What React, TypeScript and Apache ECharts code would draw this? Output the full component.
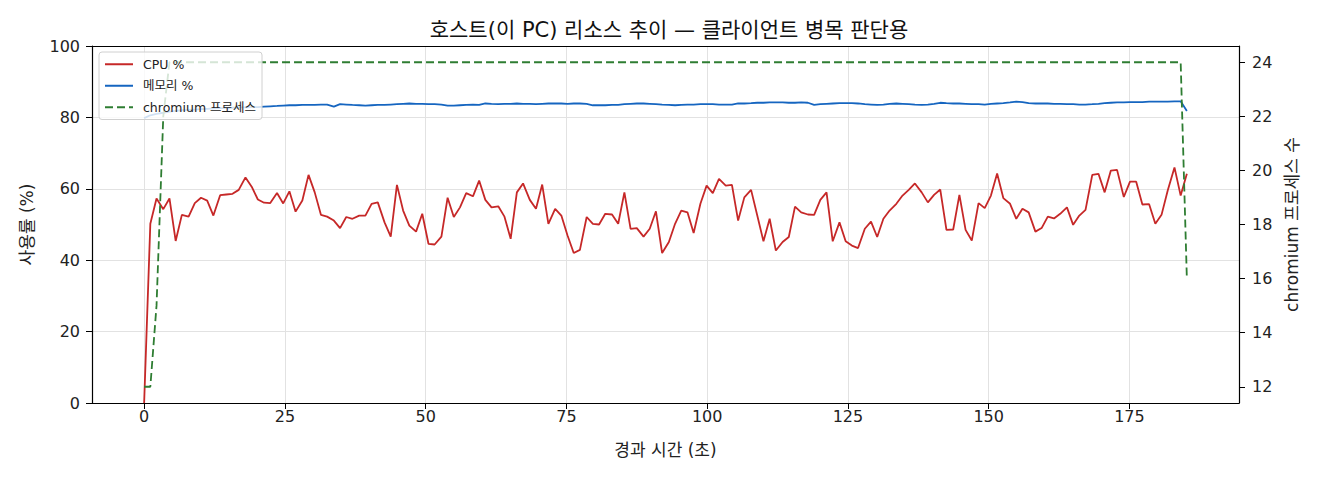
import React, { useEffect, useRef } from "react";
import * as echarts from "echarts";

// elapsed time of each sample (s)
const times = [
  0, 1.1, 2.2, 3.4, 4.5, 5.6, 6.7, 7.9, 9.0, 10.1,
  11.2, 12.3, 13.5, 14.6, 15.7, 16.8, 18.0, 19.1, 20.2, 21.3,
  22.4, 23.6, 24.7, 25.8, 26.9, 28.1, 29.2, 30.3, 31.4, 32.5,
  33.7, 34.8, 35.9, 37.0, 38.2, 39.3, 40.4, 41.5, 42.7, 43.8,
  44.9, 46.0, 47.1, 48.3, 49.4, 50.5, 51.6, 52.8, 53.9, 55.0,
  56.1, 57.2, 58.4, 59.5, 60.6, 61.7, 62.9, 64.0, 65.1, 66.2,
  67.3, 68.5, 69.6, 70.7, 71.8, 73.0, 74.1, 75.2, 76.3, 77.4,
  78.6, 79.7, 80.8, 81.9, 83.1, 84.2, 85.3, 86.4, 87.5, 88.7,
  89.8, 90.9, 92.0, 93.2, 94.3, 95.4, 96.5, 97.6, 98.8, 99.9,
  101.0, 102.1, 103.3, 104.4, 105.5, 106.6, 107.8, 108.9, 110.0, 111.1,
  112.2, 113.4, 114.5, 115.6, 116.7, 117.9, 119.0, 120.1, 121.2, 122.3,
  123.5, 124.6, 125.7, 126.8, 128.0, 129.1, 130.2, 131.3, 132.4, 133.6,
  134.7, 135.8, 136.9, 138.1, 139.2, 140.3, 141.4, 142.5, 143.7, 144.8,
  145.9, 147.0, 148.2, 149.3, 150.4, 151.5, 152.6, 153.8, 154.9, 156.0,
  157.1, 158.3, 159.4, 160.5, 161.6, 162.7, 163.9, 165.0, 166.1, 167.2,
  168.4, 169.5, 170.6, 171.7, 172.8, 174.0, 175.1, 176.2, 177.3, 178.5,
  179.6, 180.7, 181.8, 183.0, 184.1, 185.2,
];

const cpu = [
  0, 50.2, 57.3, 54.3, 57.3, 45.4, 52.7, 52.2, 56.0, 57.5,
  56.7, 52.5, 58.2, 58.4, 58.6, 59.7, 63.2, 60.6, 57.0, 56.1,
  56.0, 58.8, 55.9, 59.3, 53.6, 56.7, 63.9, 59.0, 52.7, 52.2,
  51.1, 49.0, 52.1, 51.6, 52.5, 52.5, 55.8, 56.2, 50.6, 46.6,
  61.1, 53.9, 49.7, 48.0, 53.0, 44.6, 44.4, 46.6, 57.5, 52.1,
  54.8, 58.8, 57.9, 62.3, 56.9, 54.8, 55.1, 52.2, 46.0, 59.0,
  61.5, 56.9, 54.4, 61.2, 50.2, 54.4, 52.5, 46.9, 42.0, 42.9,
  52.1, 50.2, 50.0, 53.0, 52.8, 50.2, 59.0, 48.8, 49.0, 46.6,
  48.8, 53.7, 42.0, 45.1, 50.2, 53.9, 53.4, 47.6, 55.8, 60.9,
  58.8, 62.8, 60.9, 61.1, 51.1, 57.6, 59.7, 52.5, 45.3, 51.6,
  42.7, 45.1, 46.5, 55.0, 53.4, 52.8, 52.7, 56.9, 59.0, 45.3,
  50.6, 45.3, 44.1, 43.4, 48.8, 50.8, 46.5, 51.6, 53.9, 55.8,
  58.1, 59.7, 61.5, 59.0, 56.2, 58.3, 59.8, 48.5, 48.6, 58.3,
  48.5, 45.5, 56.0, 54.6, 58.1, 64.3, 57.4, 55.8, 51.6, 54.4,
  53.4, 48.0, 49.0, 52.2, 51.7, 53.0, 54.8, 49.9, 52.5, 54.1,
  63.9, 64.2, 59.0, 65.1, 65.3, 57.7, 62.0, 62.0, 55.6, 55.7,
  50.2, 52.7, 59.5, 66.0, 58.1, 64.2,
];

const memory = [
  79.8, 80.6, 81.0, 81.3, 81.6, 81.8, 82.0, 82.1, 82.2, 82.3,
  82.4, 82.5, 82.6, 82.6, 82.7, 82.8, 82.8, 82.9, 82.9, 83.0,
  83.1, 83.2, 83.3, 83.4, 83.4, 83.5, 83.5, 83.5, 83.6, 83.6,
  83.0, 83.7, 83.6, 83.5, 83.4, 83.3, 83.4, 83.5, 83.5, 83.6,
  83.7, 83.8, 83.9, 83.8, 83.8, 83.7, 83.7, 83.6, 83.3, 83.3,
  83.4, 83.5, 83.6, 83.5, 83.9, 83.8, 83.7, 83.8, 83.8, 83.9,
  83.8, 83.8, 83.7, 83.8, 83.9, 83.9, 83.9, 83.8, 83.9, 83.9,
  83.8, 83.4, 83.4, 83.4, 83.5, 83.5, 83.7, 83.8, 83.9, 83.9,
  83.8, 83.7, 83.6, 83.5, 83.4, 83.5, 83.6, 83.6, 83.7, 83.7,
  83.7, 83.6, 83.6, 83.6, 83.9, 83.9, 84.0, 84.1, 84.1, 84.2,
  84.2, 84.2, 84.1, 84.1, 84.2, 84.1, 83.5, 83.7, 83.8, 83.9,
  84.0, 84.0, 84.0, 83.9, 83.7, 83.6, 83.5, 83.6, 83.8, 83.9,
  83.8, 83.7, 83.6, 83.5, 83.6, 83.8, 84.1, 84.0, 83.9, 83.9,
  83.8, 83.7, 83.7, 83.6, 83.8, 83.9, 84.0, 84.2, 84.4, 84.3,
  84.0, 83.9, 83.9, 83.9, 83.8, 83.8, 83.7, 83.7, 83.6, 83.6,
  83.7, 83.8, 84.0, 84.1, 84.2, 84.2, 84.3, 84.3, 84.3, 84.4,
  84.4, 84.4, 84.4, 84.5, 84.5, 81.8,
];

// chromium process count: change points only (constant 24 in between)
const procTimes = [0, 1.1, 2.2, 3.4, 4.5, 184.1, 185.2];
const procCounts = [12, 12, 15, 22, 24, 24, 16];

const xTicks = [0, 25, 50, 75, 100, 125, 150, 175];
const rightTicks = [12, 14, 16, 18, 20, 22, 24];

const TITLE = "호스트(이 PC) 리소스 추이 — 클라이언트 병목 판단용";
const X_NAME = "경과 시간 (초)";
const Y_NAME = "사용률 (%)";
const Y2_NAME = "chromium 프로세스 수";
const SERIES_NAMES = ["CPU %", "메모리 %", "chromium 프로세스"];

const FONT = "'DejaVu Sans', 'Noto Sans CJK KR', sans-serif";

export default function App() {
  const ref = useRef<HTMLDivElement>(null);
  useEffect(() => {
    document.body.style.margin = "0";
    if (!ref.current) return;
    const chart = echarts.init(ref.current, null, { renderer: "svg" });
    const axisLabel = { color: "#222", fontSize: 16, fontFamily: FONT };
    const nameStyle = { color: "#222", fontSize: 17, fontFamily: FONT };
    const grid = { lineStyle: { color: "#e2e2e2", width: 1 } };
    const spine = { show: true, onZero: false, lineStyle: { color: "#000", width: 1.2 } };
    chart.setOption({
      animation: false,
      textStyle: { fontFamily: FONT },
      title: {
        text: TITLE,
        left: 664,
        textAlign: "center",
        top: 14,
        textStyle: { fontSize: 21, fontWeight: "normal", color: "#111", fontFamily: FONT },
      },
      legend: {
        left: 99,
        top: 52,
        orient: "vertical",
        itemWidth: 28,
        itemHeight: 14,
        itemGap: 9,
        padding: [6, 6, 6, 5],
        backgroundColor: "rgba(255,255,255,0.8)",
        borderColor: "#d0d0d0",
        borderWidth: 1,
        borderRadius: 3,
        itemStyle: { color: "transparent", borderColor: "transparent", borderWidth: 0, opacity: 0 },
        textStyle: { fontSize: 12.5, color: "#222", fontFamily: FONT, padding: [0, 0, 0, 5] },
        data: SERIES_NAMES,
      },
      grid: { left: 92, right: 81, top: 46, bottom: 77, containLabel: false },
      xAxis: [
        {
          type: "value",
          min: -9.26,
          max: 194.46,
          name: X_NAME,
          nameLocation: "middle",
          nameGap: 38,
          nameTextStyle: nameStyle,
          axisLine: spine,
          axisTick: { show: true, length: 6, customValues: xTicks, lineStyle: { color: "#000" } },
          axisLabel: { ...axisLabel, margin: 5, customValues: xTicks },
          splitLine: { show: true, ...grid },
        },
        {
          type: "value",
          position: "top",
          min: -9.26,
          max: 194.46,
          axisLine: spine,
          axisTick: { show: false },
          axisLabel: { show: false },
          splitLine: { show: false },
        },
      ],
      yAxis: [
        {
          type: "value",
          min: 0,
          max: 100,
          interval: 20,
          name: Y_NAME,
          nameLocation: "middle",
          nameGap: 57,
          nameTextStyle: nameStyle,
          axisLine: spine,
          axisTick: { show: true, length: 6, lineStyle: { color: "#000" } },
          axisLabel: { ...axisLabel, margin: 12 },
          splitLine: { show: true, ...grid },
        },
        {
          type: "value",
          position: "right",
          min: 11.4,
          max: 24.6,
          name: Y2_NAME,
          nameLocation: "middle",
          nameGap: 42,
          nameRotate: 90,
          nameTextStyle: nameStyle,
          axisLine: spine,
          axisTick: { show: true, length: 6, customValues: rightTicks, lineStyle: { color: "#000" } },
          axisLabel: { ...axisLabel, margin: 13, customValues: rightTicks },
          splitLine: { show: false },
        },
      ],
      series: [
        {
          name: SERIES_NAMES[0],
          type: "line",
          xAxisIndex: 0,
          yAxisIndex: 0,
          symbol: "none",
          color: "#c62828",
          lineStyle: { color: "#c62828", width: 1.8 },
          data: times.map((t, i) => [t, cpu[i]]),
          z: 3,
        },
        {
          name: SERIES_NAMES[1],
          type: "line",
          xAxisIndex: 0,
          yAxisIndex: 0,
          symbol: "none",
          color: "#1565c0",
          lineStyle: { color: "#1565c0", width: 1.8 },
          data: times.map((t, i) => [t, memory[i]]),
          z: 3,
        },
        {
          name: SERIES_NAMES[2],
          type: "line",
          xAxisIndex: 0,
          yAxisIndex: 1,
          symbol: "none",
          color: "#2e7d32",
          lineStyle: { color: "#2e7d32", width: 1.8, type: [8, 4] },
          data: procTimes.map((t, i) => [t, procCounts[i]]),
          z: 3,
        },
      ],
    });
    return () => chart.dispose();
  }, []);
  return <div ref={ref} style={{ width: 1320, height: 480 }} />;
}
